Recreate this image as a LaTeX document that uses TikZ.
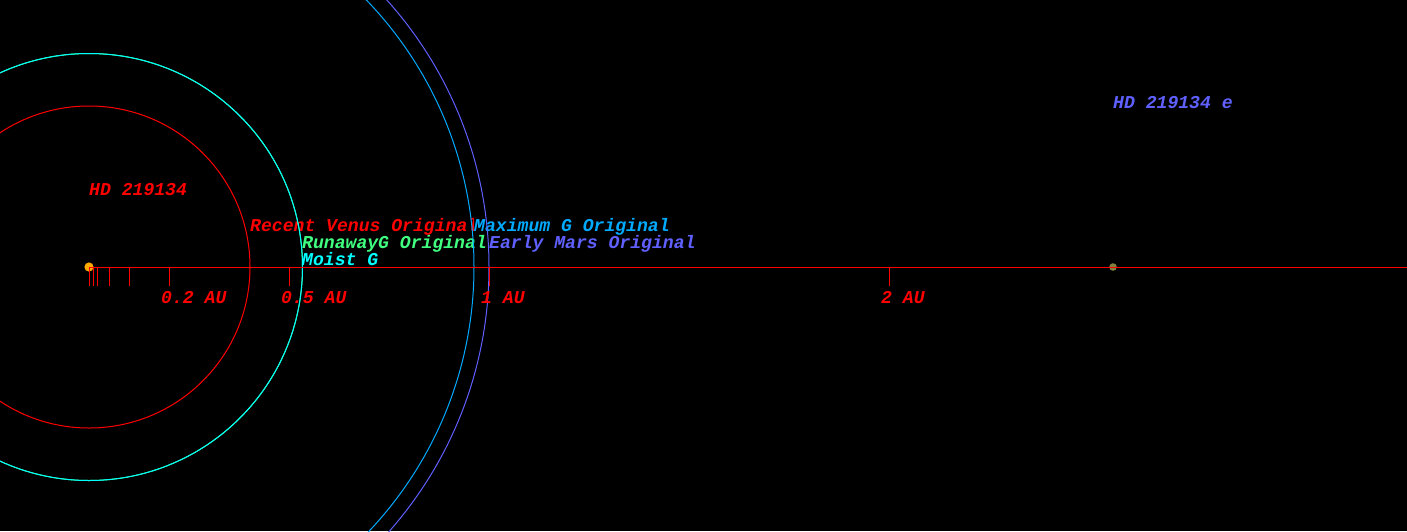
\documentclass[tikz,border=0pt]{standalone}
\usepackage{fontspec}
\newfontfamily\plotfont{Liberation Mono}[BoldItalicFont={* Bold Italic}]
\definecolor{venus}{RGB}{255,0,0}
\definecolor{runaway}{RGB}{64,255,128}
\definecolor{moist}{RGB}{0,255,255}
\definecolor{maxg}{RGB}{0,170,255}
\definecolor{mars}{RGB}{96,96,255}
\definecolor{planetc}{RGB}{128,128,64}
\definecolor{starc}{RGB}{255,170,0}
\tikzset{
  lbl/.style={anchor=base west, inner sep=0pt, font=\plotfont\bfseries\itshape\fontsize{18.1}{20}\selectfont},
  zlbl/.style={lbl, fill=black},
  orbit/.style={line width=1pt},
  tick/.style={venus, line width=0.8pt}
}
\begin{document}
\begin{tikzpicture}[x=1pt,y=-1pt]
\fill[black] (0,0) rectangle (1407,531);
\useasboundingbox (0,0) rectangle (1407,531);
% zone labels
\node[zlbl, text=venus] (lvenus) at (250,231) {Recent Venus Original};
\node[zlbl, text=maxg] (lmaxg) at (474,231) {Maximum G Original};
\node[lbl, text=runaway] (lrun) at (302,248) {RunawayG Original};
\node[lbl, text=mars] (lmars) at (489,248) {Early Mars Original};
\node[lbl, text=moist] (lmoist) at (302,265) {Moist G};
\begin{scope}
\clip (0,0) rectangle (1407,531);
\coordinate (star) at (89,267);
\draw[orbit, venus] (star) circle[radius=161];
\draw[orbit, runaway] (star) circle[radius=213.5];
\draw[orbit, moist] (star) circle[radius=213.5];
\draw[orbit, maxg] (star) circle[radius=385];
\draw[orbit, mars] (star) circle[radius=400];
\end{scope}
% star and planet
\fill[starc] (star) circle[radius=4.6];
\coordinate (pe) at (1113,267);
\fill[planetc] (pe) circle[radius=3.8];
% axis
\coordinate (axend) at (1407,267);
\draw[venus, line width=0.8pt] (star) -- (axend);
\foreach \x in {89,93,97,109,129,169,289,489,889}
  \draw[tick] (\x,267) -- (\x,286);
% axis labels
\node[lbl, text=venus] (t02) at (161,303) {0.2 AU};
\node[lbl, text=venus] (t05) at (281,303) {0.5 AU};
\node[lbl, text=venus] (t1) at (481,303) {1 AU};
\node[lbl, text=venus] (t2) at (881,303) {2 AU};
% names
\node[lbl, text=venus] (sname) at (89,195) {HD 219134};
\node[lbl, text=mars] (pname) at (1113,108) {HD 219134 e};
\end{tikzpicture}
\end{document}
